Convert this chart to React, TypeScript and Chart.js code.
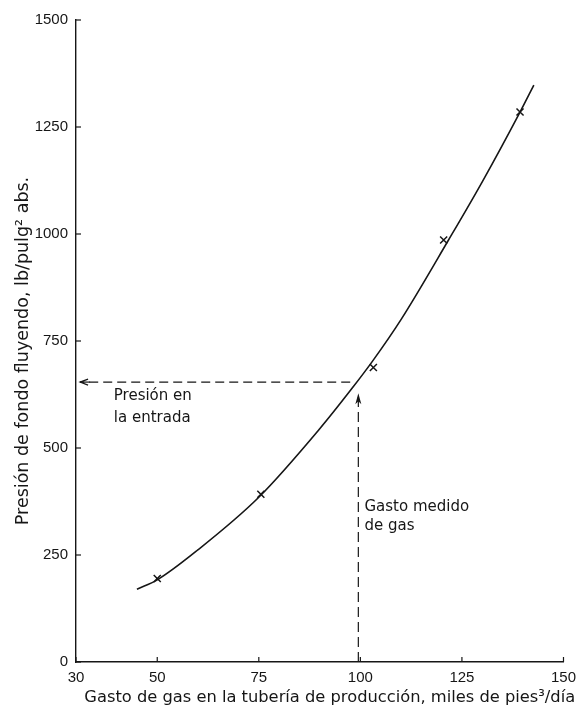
import React, { useEffect, useRef } from "react";
import { Chart, registerables } from "chart.js";

Chart.register(...registerables);

// Axis tick values
const xTicks = [30, 50, 75, 100, 125, 150];
const yTicks = [0, 250, 500, 750, 1000, 1250, 1500];

// Smooth performance curve: gas rate (thousand ft³/day) vs flowing bottom-hole pressure (psia)
const curveGasto = [45, 50, 60, 75, 90, 98, 103, 110, 121.7, 130, 139.3, 142.7];
const curvePresion = [170, 192, 262, 385, 545, 640, 703, 800, 986, 1122, 1285, 1348];

// Measured points
const medGasto = [50, 75.5, 103.2, 120.5, 139.3];
const medPresion = [195, 392, 688, 986, 1285];

// Guide lines: inlet pressure (horizontal) and measured gas rate (vertical)
const entradaGasto = [97.5, 31];
const entradaPresion = [654, 654];
const medidoGasto = [99.5, 99.5];
const medidoPresion = [0, 628];

const notaEntrada = ["Presión en", "la entrada"];
const notaMedido = ["Gasto medido", "de gas"];

const xTitle = "Gasto de gas en la tubería de producción, miles de pies³/día";
const yTitle = "Presión de fondo fluyendo, lb/pulg² abs.";

const INK = "#161616";
const TICK_FONT = '"Liberation Sans", "DejaVu Sans", sans-serif';
const TEXT_FONT = '"DejaVu Sans", "Liberation Sans", sans-serif';

const overlay = {
  id: "overlay",
  afterDatasetsDraw(chart: any) {
    const { ctx, chartArea, scales } = chart;
    const x = scales.x;
    const y = scales.y;
    ctx.save();
    ctx.strokeStyle = INK;
    ctx.fillStyle = INK;
    ctx.lineWidth = 1.2;

    // inward tick marks
    yTicks.forEach((v) => {
      const py = y.getPixelForValue(v);
      ctx.beginPath();
      ctx.moveTo(chartArea.left, py);
      ctx.lineTo(chartArea.left + 5, py);
      ctx.stroke();
    });
    xTicks.forEach((v) => {
      const px = x.getPixelForValue(v);
      ctx.beginPath();
      ctx.moveTo(px, chartArea.bottom);
      ctx.lineTo(px, chartArea.bottom - 5);
      ctx.stroke();
    });

    // arrowhead on the inlet-pressure line (pointing left)
    const ax = x.getPixelForValue(entradaGasto[1]);
    const ay = y.getPixelForValue(entradaPresion[1]);
    ctx.beginPath();
    ctx.moveTo(ax + 8, ay - 3);
    ctx.lineTo(ax, ay);
    ctx.lineTo(ax + 8, ay + 3);
    ctx.stroke();
    ctx.beginPath();
    ctx.moveTo(ax, ay);
    ctx.lineTo(ax + 10, ay);
    ctx.stroke();

    // arrowhead on the measured-rate line (pointing up)
    const bx = x.getPixelForValue(medidoGasto[1]);
    const by = y.getPixelForValue(medidoPresion[1]);
    ctx.beginPath();
    ctx.moveTo(bx, by);
    ctx.lineTo(bx - 3, by + 11);
    ctx.lineTo(bx, by + 8);
    ctx.lineTo(bx + 3, by + 11);
    ctx.closePath();
    ctx.fill();

    // notes
    ctx.font = `15px ${TEXT_FONT}`;
    ctx.textAlign = "left";
    ctx.textBaseline = "middle";
    const ex = x.getPixelForValue(39.3);
    ctx.fillText(notaEntrada[0], ex, y.getPixelForValue(621));
    ctx.fillText(notaEntrada[1], ex, y.getPixelForValue(570));
    const mx = x.getPixelForValue(101);
    ctx.fillText(notaMedido[0], mx, y.getPixelForValue(362));
    ctx.fillText(notaMedido[1], mx, y.getPixelForValue(318));

    // axis titles
    ctx.textAlign = "center";
    ctx.font = `16.3px ${TEXT_FONT}`;
    ctx.fillText(xTitle, (chartArea.left + chartArea.right) / 2 + 10, chartArea.bottom + 36);
    ctx.font = `17.5px ${TEXT_FONT}`;
    ctx.translate(chartArea.left - 53, (chartArea.top + chartArea.bottom) / 2 + 10);
    ctx.rotate(-Math.PI / 2);
    ctx.fillText(yTitle, 0, 0);
    ctx.restore();
  },
};

export default function App() {
  const ref = useRef<HTMLCanvasElement | null>(null);

  useEffect(() => {
    if (!ref.current) return;
    const toPts = (xs: number[], ys: number[]) => xs.map((v, i) => ({ x: v, y: ys[i] }));
    const chart = new Chart(ref.current, {
      type: "scatter",
      data: {
        datasets: [
          {
            data: toPts(curveGasto, curvePresion),
            showLine: true,
            borderColor: INK,
            borderWidth: 1.6,
            pointRadius: 0,
            cubicInterpolationMode: "monotone",
          },
          {
            data: toPts(medGasto, medPresion),
            pointStyle: "crossRot",
            pointRadius: 5,
            borderColor: INK,
            borderWidth: 1.5,
            showLine: false,
          },
          {
            data: toPts(entradaGasto, entradaPresion),
            showLine: true,
            borderColor: INK,
            borderWidth: 1.2,
            borderDash: [9, 5],
            pointRadius: 0,
          },
          {
            data: toPts(medidoGasto, medidoPresion),
            showLine: true,
            borderColor: INK,
            borderWidth: 1.2,
            borderDash: [10, 5],
            pointRadius: 0,
          },
        ],
      } as any,
      options: {
        animation: false,
        responsive: false,
        layout: { padding: { top: 20, right: 15, left: 0, bottom: 0 } },
        plugins: { legend: { display: false }, tooltip: { enabled: false } },
        scales: {
          x: {
            type: "linear",
            min: 30,
            max: 150,
            afterBuildTicks: (s: any) => {
              s.ticks = xTicks.map((v) => ({ value: v }));
            },
            afterFit: (s: any) => {
              s.height = 47;
            },
            grid: { display: false, drawTicks: false },
            border: { display: true, color: INK, width: 1.4 },
            ticks: {
              color: INK,
              padding: 7,
              font: { family: TICK_FONT, size: 15 },
              maxRotation: 0,
              callback: (v: any) => String(v),
            },
          },
          y: {
            type: "linear",
            min: 0,
            max: 1500,
            afterBuildTicks: (s: any) => {
              s.ticks = yTicks.map((v) => ({ value: v }));
            },
            afterFit: (s: any) => {
              s.width = 76;
            },
            grid: { display: false, drawTicks: false },
            border: { display: true, color: INK, width: 1.4 },
            ticks: {
              color: INK,
              padding: 8,
              font: { family: TICK_FONT, size: 15 },
              callback: (v: any) => String(v),
            },
          },
        },
      },
      plugins: [overlay],
    });
    return () => chart.destroy();
  }, []);

  return (
    <div style={{ position: "fixed", left: 0, top: 0, width: 583, height: 709, background: "#fff" }}>
      <canvas ref={ref} width={583} height={709} />
    </div>
  );
}
